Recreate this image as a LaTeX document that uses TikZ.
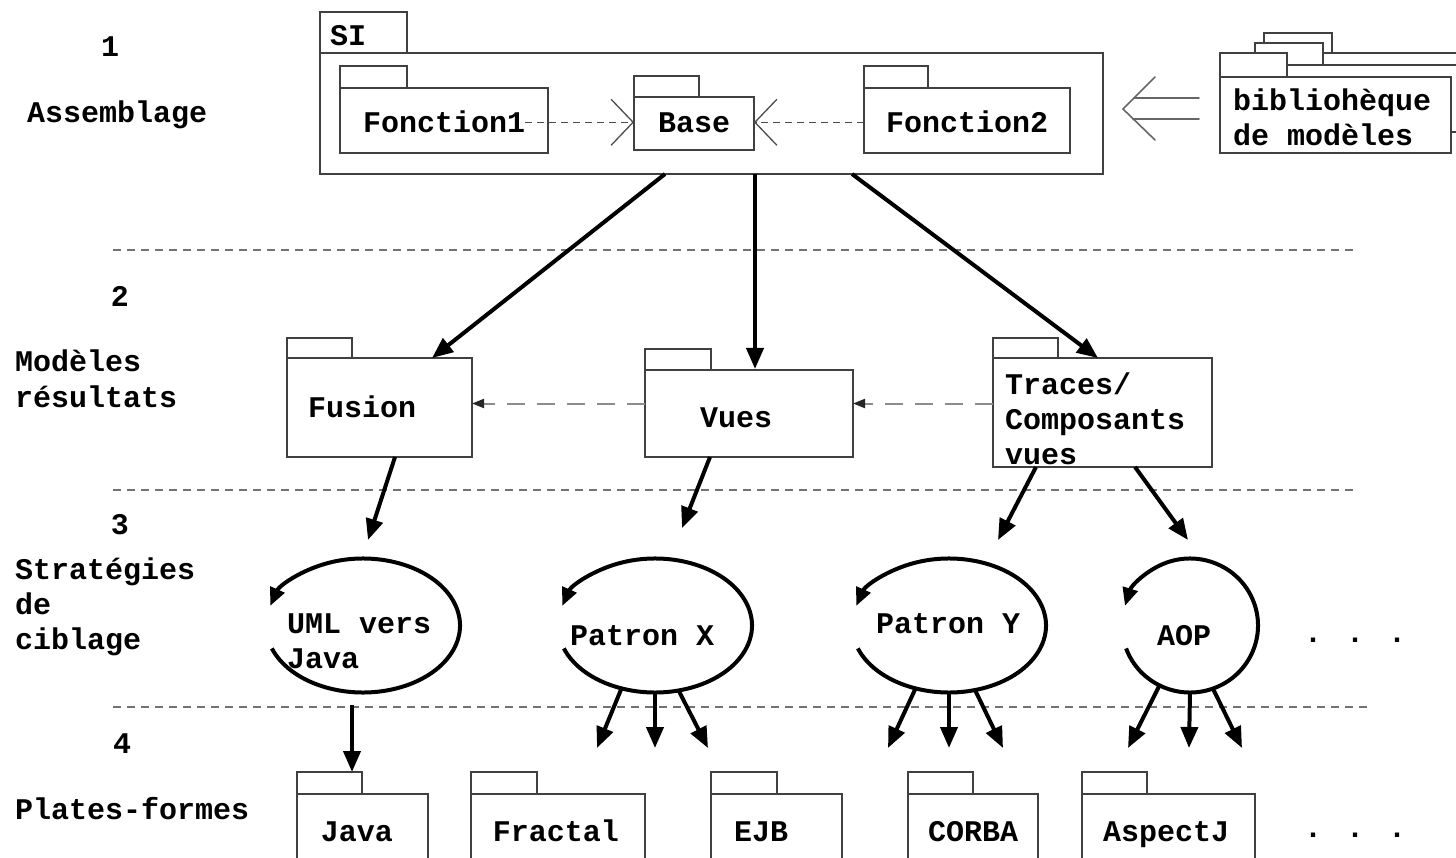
\documentclass[tikz,border=0pt]{standalone}
\usepackage{fontspec}
\setmainfont{Liberation Mono}
\usetikzlibrary{arrows.meta,calc,shapes.geometric}

% UML package: body node (#1) with its top-left corner at (#2,#3),
% body size #4 x #5, tab size #6 x #7 sitting on the body's top-left corner
\newcommand\umlpkg[7]{%
  \node[pkgbody, minimum width=#4, minimum height=#5] (#1) at (#2,#3) {};
  \draw[pkgline] (#1.north west) rectangle ++(#6,-#7);
}

\begin{document}
\begin{tikzpicture}[x=1pt,y=-1pt,
  txt/.style={font=\bfseries\fontsize{30}{35}\selectfont, inner sep=0pt, anchor=base west, yshift=-3pt},
  txtc/.style={txt, anchor=base},
  pkgline/.style={draw=black!75, line width=1.4pt, fill=white},
  pkgbody/.style={pkgline, anchor=north west, inner sep=0pt, outer sep=0pt},
  strat/.style={ellipse, inner sep=0pt, outer sep=0pt, minimum width=194, minimum height=135},
  sep/.style={draw=black!55, line width=2pt, dash pattern=on 8pt off 6pt},
  flow/.style={line width=4pt, -{Triangle[length=21pt,width=17pt]}},
  loopline/.style={line width=4pt, -{Triangle[length=18pt,width=15pt]}},
  dep/.style={draw=black!70, line width=1.3pt, dash pattern=on 7pt off 5pt,
    -{Straight Barb[length=22pt,width=46pt,line width=1.3pt]}},
  trace/.style={draw=black!45, line width=2pt, dash pattern=on 18pt off 12pt,
    -{Triangle[length=12pt,width=9pt,color=black!85,fill=black!85]}},
  refl/.style={draw=black!60, line width=1.6pt, line cap=round},
]
\useasboundingbox (0,0) rectangle (1456,858);

% ---------- level separators ----------
\draw[sep] (113,250) -- (1355,250);
\draw[sep] (113,490) -- (1358,490);
\draw[sep] (113,707) -- (1368,707);

% ---------- level labels ----------
\node[txtc] (n1) at (110,54) {1};
\node[txt] (l1) at (27,120) {Assemblage};
\node[txtc] (n2) at (120,304) {2};
\node[txt] (l2a) at (15,369) {Modèles};
\node[txt] (l2b) at (15,404) {résultats};
\node[txtc] (n3) at (120,531) {3};
\node[txt] (l3a) at (15,576) {Stratégies};
\node[txt] (l3b) at (15,611) {de};
\node[txt] (l3c) at (15,646) {ciblage};
\node[txtc] (n4) at (122,750) {4};
\node[txt] (l4) at (15,816) {Plates-formes};

% ---------- level 1: SI and the model library ----------
\umlpkg{si}{320}{53}{783}{121}{87}{41}
\node[txt] (tsi) at (330,43) {SI};
\umlpkg{f1}{340}{88}{208}{65}{67}{22}
\node[txt] (tf1) at (363,130) {Fonction1};
\umlpkg{base}{634}{97}{120}{53}{65}{21}
\node[txtc] (tbase) at (694,130) {Base};
\umlpkg{f2}{864}{88}{206}{65}{64}{22}
\node[txt] (tf2) at (886,130) {Fonction2};

\draw[dep] (tf1.east) -- (tf1.east -| base.west);
\draw[dep] (tf1.east -| f2.west) -- (tf1.east -| base.east);

% stacked library packages
\draw[pkgline] (1264,53) rectangle (1500,125);
\draw[pkgline] (1264,53) rectangle (1332,33);
\draw[pkgline] (1255,65) rectangle (1500,132);
\draw[pkgline] (1255,65) rectangle (1323,43);
\umlpkg{lib}{1220}{77}{231}{76}{67}{24}
\node[txt] (tlib1) at (1233,108) {bibliohèque};
\node[txt] (tlib2) at (1233,143) {de modèles};

% open double arrow from the library to SI
\coordinate (rtip) at ([xshift=20,yshift=4.5]si.east);
\draw[refl] ($(rtip)+(32,-32)$) -- (rtip) -- ($(rtip)+(32,31)$);
\draw[refl] ($(rtip)+(11,-11)$) -- ($(rtip -| lib.west)+(-21,-11)$);
\draw[refl] ($(rtip)+(10,10)$) -- ($(rtip -| lib.west)+(-21,10)$);

% ---------- level 2: result models ----------
\umlpkg{fusion}{287}{358}{185}{99}{65}{20}
\node[txt] (tfusion) at (308,414) {Fusion};
\umlpkg{vues}{645}{370}{208}{87}{66}{21}
\node[txtc] (tvues) at (736,424) {Vues};
\umlpkg{traces}{993}{358}{219}{109}{65}{20}
\node[txt] (ttr1) at (1005,391) {Traces/};
\node[txt] (ttr2) at (1005,426) {Composants};
\node[txt] (ttr3) at (1005,461) {vues};

\draw[trace] ([yshift=10]vues.west) -- ([yshift=10]vues.west -| fusion.east);
\draw[trace] ([yshift=10]vues.west -| traces.west) -- ([yshift=10]vues.east);

\draw[flow] ([xshift=-46.5]si.south) -- ([xshift=145]fusion.north west);
\draw[flow] ([xshift=43.5]si.south) -- ([xshift=110,yshift=1]vues.north west);
\draw[flow] ([xshift=140.5]si.south) -- ([xshift=105]traces.north west);

% ---------- level 3: targeting strategies ----------
\node[strat] (s1) at (363,625.5) {};
\node[strat] (s2) at (655,625.5) {};
\node[strat] (s3) at (949,625.5) {};
\node[strat, minimum width=136, minimum height=135] (s4) at (1190,625.5) {};

\foreach \s/\rx in {s1/97,s2/97,s3/97,s4/68}
  \draw[loopline] ($(\s.center)+(200:\rx pt and 67pt)$)
    arc[start angle=200, end angle=523, x radius=\rx pt, y radius=67pt];

\node[txt] (ts1a) at (287,630) {UML vers};
\node[txt] (ts1b) at (287,665) {Java};
\node[txt] (ts2) at (570,642) {Patron X};
\node[txt] (ts3) at (876,630) {Patron Y};
\node[txtc] (ts4) at (1184,642) {AOP};
\node[txtc] (tdots1) at (1355,639) {. . .};

\coordinate (e1) at (368,540);
\coordinate (e2) at (682,528);
\coordinate (e3) at (998,540);
\coordinate (e4) at (1188,540);
\draw[flow] ([xshift=108]fusion.south west) -- (e1);
\draw[flow] ([xshift=65]vues.south west) -- (e2);
\draw[flow] ([xshift=43]traces.south west) -- (e3);
\draw[flow] ([xshift=142]traces.south west) -- (e4);

% ---------- level 4: platforms ----------
\umlpkg{java}{297}{794}{131}{100}{65}{22}
\node[txtc] (tjava) at (357,838) {Java};
\umlpkg{fractal}{471}{794}{174}{100}{66}{22}
\node[txtc] (tfractal) at (556,838) {Fractal};
\umlpkg{ejb}{711}{794}{131}{100}{66}{22}
\node[txtc] (tejb) at (761,838) {EJB};
\umlpkg{corba}{908}{794}{130}{100}{65}{22}
\node[txtc] (tcorba) at (973,838) {CORBA};
\umlpkg{aspectj}{1082}{794}{173}{100}{65}{22}
\node[txtc] (taspectj) at (1166,838) {AspectJ};
\node[txtc] (tdots2) at (1355,834) {. . .};

\draw[flow] ([xshift=-11,yshift=-12]s1.south) -- ([xshift=55,yshift=22]java.north west);

\coordinate (px1) at (597,748);
\coordinate (px2) at (655,748);
\coordinate (px3) at (708,748);
\draw[flow] (s2.242) -- (px1);
\draw[flow] (s2.south) -- (px2);
\draw[flow] (s2.290) -- (px3);

\coordinate (py1) at (888,748);
\coordinate (py2) at (949,748);
\coordinate (py3) at (1003,748);
\draw[flow] (s3.242) -- (py1);
\draw[flow] (s3.south) -- (py2);
\draw[flow] (s3.292) -- (py3);

\coordinate (pa1) at (1128,748);
\coordinate (pa2) at (1189,748);
\coordinate (pa3) at (1242,748);
\draw[flow] (s4.243) -- (pa1);
\draw[flow] (s4.south) -- (pa2);
\draw[flow] (s4.290) -- (pa3);
\end{tikzpicture}
\end{document}
